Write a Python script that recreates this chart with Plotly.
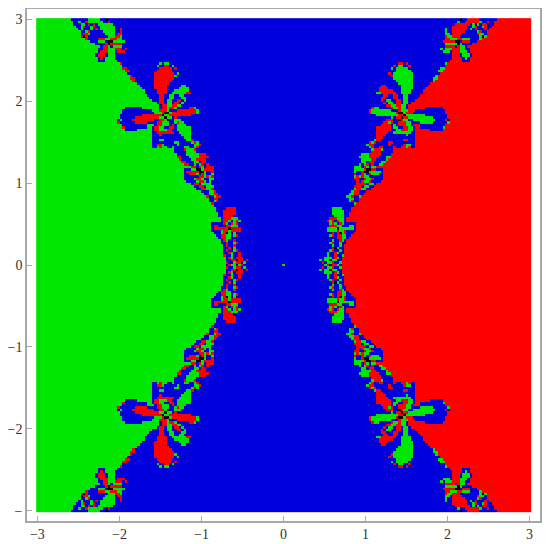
import numpy as np
import plotly.graph_objects as go

# basin cells read off the upper left quarter of the picture, as runs per row
# (b blue, g green, r red, k black). anything past the last run is blue
quarter_runs = [
    "g14 b7 g5 b2 k1", "g15 b2 g1 b2 r1 g6 b2 r1", "g15 b3 g2 b1 r1 b1 r1 b1 g6 b1",
    "g16 b2 g1 r1 b2 g1 r1 b2 g6", "g17 b1 g1 b3 g1 b1 r1 b1 g6 b2 r1",
    "g18 b2 g1 r1 b5 g5 b2 r1", "g18 b1 r2 g1 b6 g4 b1 r2", "g18 r1 k1 r1 b8 g3 r2 g1",
    "g20 r1 b4 r3 g2 r3 g2", "g22 b3 g3 b1 k2 g5", "g24 b4 r1 k1 r5 b2",
    "g26 b1 r2 g1 b1 g4", "g25 b2 r2 g3 r3 b1 r1", "g25 b1 r3 g3 b1 r3",
    "g24 b1 r3 b1 g3", "g24 b1 r3 b1 g3", "g25 b1 r1 b1 g4", "g25 b3 g5",
    "g34 r1 b15 g1 b1 g2", "g35 b14 g1 b2 r2 b1 g1", "g35 r2 b13 r5 b1 r1",
    "g36 r2 b11 r6 b1", "g37 b11 r8 b1 g1", "g38 r1 b9 r8 g1", "g38 r2 b8 r8",
    "g39 r1 b8 r7", "g41 b7 r6", "g42 b6 r5 b6 g2", "g43 b5 r5 b5 g4",
    "g44 b5 r4 b3 g6", "g44 b5 r4 b2 g6 r2", "g45 b5 r2 b2 g2 b2 g2",
    "g46 b4 r2 b2 g2 b3 g2", "g47 b3 r2 b1 g2 b2 r2 b1 g1",
    "g49 b1 r2 b1 g2 b1 r2 b1 g1", "g50 b1 r2 g2 r2 g2",
    "g36 b7 g7 b1 r2 g1 r2 g1 b5 r2 g1", "g35 b12 g3 r3 g1 b3 r8 g1",
    "g35 b13 g3 r1 k2 g1 r10 g1", "g34 b9 r8 k1 g2 r9",
    "g34 b6 r10 g2 k1 g2 b1 r1", "g33 b1 g1 b4 r9 b2 r2 g1 k1 b2 g3",
    "g33 r1 b6 r5 b4 r2 g3 b2 g1 r1 g2", "g35 b10 g3 b1 r2 g3 b1 r1 b1 g4",
    "g35 r1 b9 g2 b1 r2 g2 b2 r2 b1 g6", "g36 b5 g6 b1 r2 g3 r2 b2 g6",
    "g47 b2 r7 b2 g5", "g47 b3 r1 b8 g4", "g47 b13 g3", "g47 b3 g2 b9 g2 r1",
    "g47 b9 g2 b5 g1 r1 g1", "g47 b2 r2 g1 b5 g1 b6 g2 r1",
    "g47 b2 g1 r1 g2 b2 g1 b4 g2 b2 g1 r1", "g56 b4 r1 g3 r1", "g56 b5 g4",
    "g57 b4 g5 r3", "g57 r2 b3 g4 r4", "g58 r1 b4 g2 r4", "g59 r2 b3 g2 b1 r2",
    "g60 r2 b2 g1 b1 g1 r1 b1 r1", "g63 r2 b1 r1 g1 b1 r3", "g60 b3 g2 k2 g1 r4",
    "g60 b1 r5 k2 g1 b2 r1", "g60 b2 r3 g1 b1 r1 g1 b2 g1",
    "g60 b6 r2 g1 r1 g1 r1", "g60 b4 g1 r2 g1 b2 g2", "g61 b4 g1 r2 g1 b1 g1",
    "g63 b1 r2 b1 g4", "g64 b2 r2 b1 g3", "g65 b2 r2 g2 r1", "g67 b3 g2 r1",
    "g68 b2 g2 r2", "g69 r1 b2 g1 r2", "g70 b2 r2", "g70 b2 g1 r1", "g71 r1", "g72",
    "g73 b4 r4", "g73 b3 r5", "g74 b2 r5", "g74 b2 r4", "g75 b1 r3 g3",
    "g75 b1 r2 g1 b1 g1 r1 g1", "g71 b5 r1 g1 b1 r1 g1 r1", "g71 b1 r2 b3 r2 g3",
    "g71 b1 r6 k1 r4", "g71 b4 g1 r2 g1 r4", "g72 b3 g1 r1 k1 g1 b1 g1",
    "g73 b2 r2 g2 b1 g1 r1", "g74 b1 r2 g2 b1", "g75 b1 r1 g1 b2 r1",
    "g75 b2 r1 b2 g1 r1", "g76 b1 r1 b2 r1", "g76 b2 r1 k1 g1",
    "g76 b1 r1 b2 g1 r1", "g76 b2 r1 g1 b2 r1", "g76 r1 b2 g1 b2 r1",
    "g77 b1 r1 g1 b1 r3", "g77 b2 r2 k1 r2 b1 r1", "g77 r1 b2 g1 r2 b1 g1",
    "g77 b1 r1 g2 b1 g1 r1 b16 g1",
]

tick_values = [-3, -2, -1, 0, 1, 2, 3]
x_labels = ["−3", "−2", "−1", "0", "1", "2", "3"]
y_labels = ["−", "−2", "−1", "0", "1", "2", "3"]
codes = {"b": 0, "g": 1, "r": 2, "k": 3}

quarter = np.zeros((101, 101), dtype=int)
for i, row in enumerate(quarter_runs):
    pos = 0
    for run in row.split():
        n = int(run[1:])
        quarter[i, pos:pos + n] = codes[run[0]]
        pos += n

# the right half is the left one flipped with red and green swapped, the lower half is the upper flipped
right = quarter[:, :100][:, ::-1].copy()
right[quarter[:, :100][:, ::-1] == 1] = 2
right[quarter[:, :100][:, ::-1] == 2] = 1
top = np.hstack([quarter, right])
z = np.vstack([top, top[:100][::-1]])

colors = ["#0000dc", "#00e600", "#ff0000", "#000000"]
scale = []
for i, c in enumerate(colors):
    scale += [[i / 4, c], [(i + 1) / 4, c]]

fig = go.Figure(go.Heatmap(z=z, x0=-3, dx=0.03, y0=3, dy=-0.03, zmin=0, zmax=4,
                           colorscale=scale, showscale=False, hoverinfo="skip"))

frame = dict(range=[-3.127, 3.127], showgrid=False, zeroline=False, showline=True, mirror=True,
             linecolor="#a8a8a8", linewidth=1.5, ticks="inside", ticklen=5, tickwidth=1,
             tickcolor="#a8a8a8", tickvals=tick_values, tickangle=0, automargin=False,
             tickfont=dict(family="Liberation Serif", size=14, color="#333333"))
fig.update_xaxes(frame, ticktext=x_labels, ticklabelstandoff=-1)
fig.update_yaxes(frame, ticktext=y_labels, ticklabelstandoff=0)
# the page puts 8px of body margin round the figure, so it is sized to sit inside the window
fig.update_layout(width=534, height=534, margin=dict(l=19, r=2, t=1, b=21),
                  paper_bgcolor="white", plot_bgcolor="white")

fig.write_html("out.html")
